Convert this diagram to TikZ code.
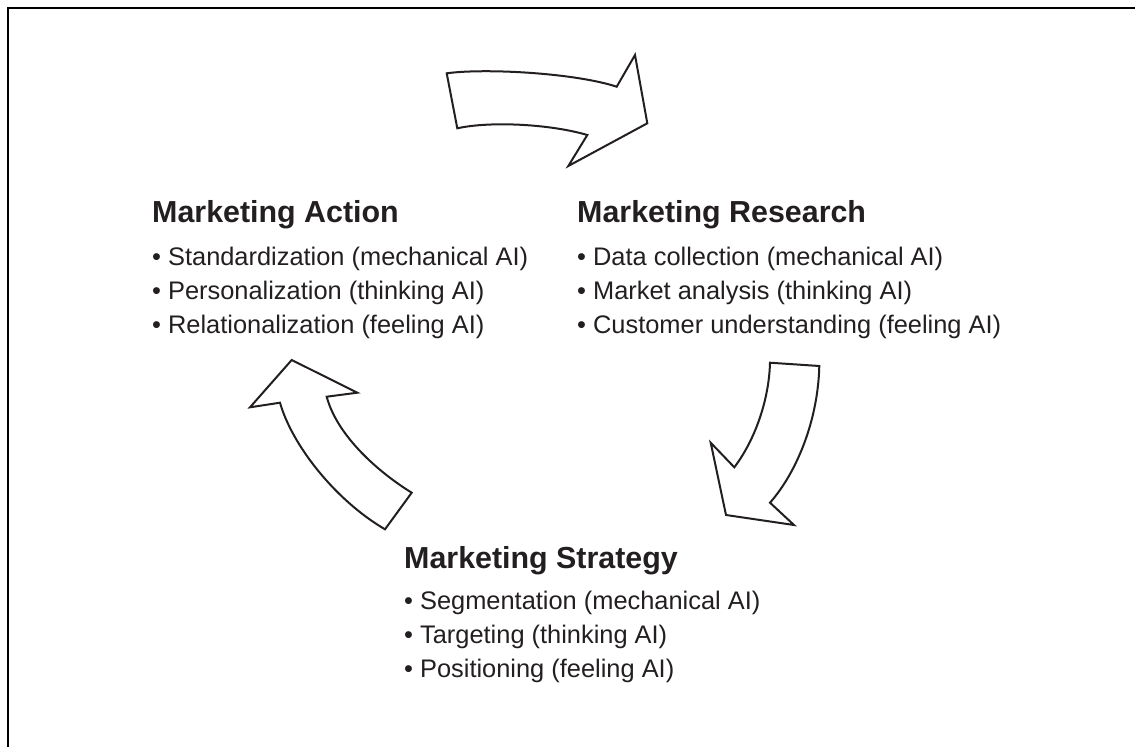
\documentclass[tikz,border=0pt]{standalone}
\usepackage{fontspec}
\setmainfont{Liberation Sans}
\definecolor{ink}{HTML}{231F20}
\begin{document}
\begin{tikzpicture}[x=1pt,y=-1pt,
  heading/.style={anchor=base west,inner sep=0pt,text=ink,font=\fontsize{30.4}{34}\selectfont\bfseries},
  item/.style={anchor=base west,inner sep=0pt,text=ink,font=\fontsize{25.4}{34}\selectfont},
  bigarrow/.style={draw=ink,line width=2pt,line join=miter,fill=white},
  frame/.style={draw=black,line width=2.4pt}]
\useasboundingbox (0,0) rectangle (1135,747);

% frame: left and top edges only
\draw[frame] (7.8,747) -- (7.8,7.8) -- (1135,7.8);

% Marketing Action
\node[heading] (act)  at (152,222) {Marketing Action};
\node[item]    (act1) at (152,265) {• Standardization (mechanical AI)};
\node[item]    (act2) at (152,299) {• Personalization (thinking AI)};
\node[item]    (act3) at (152,333) {• Relationalization (feeling AI)};

% Marketing Research
\node[heading] (res)  at (577,222) {Marketing Research};
\node[item]    (res1) at (577,265) {• Data collection (mechanical AI)};
\node[item]    (res2) at (577,299) {• Market analysis (thinking AI)};
\node[item]    (res3) at (577,333) {• Customer understanding (feeling AI)};

% Marketing Strategy
\node[heading] (str)  at (404,568) {Marketing Strategy};
\node[item]    (str1) at (404,609) {• Segmentation (mechanical AI)};
\node[item]    (str2) at (404,643) {• Targeting (thinking AI)};
\node[item]    (str3) at (404,677) {• Positioning (feeling AI)};

% curved block arrow: Action -> Research
\draw[bigarrow] (446.7,73.3) .. controls (485,68) and (575,73) .. (616.7,86.7)
  -- (635,55) -- (647.3,123.3) -- (568.3,166) -- (587.3,135)
  .. controls (550,124) and (490,121) .. (457.3,128.3) -- cycle;

% curved block arrow: Research -> Strategy
\draw[bigarrow] (770,362.7) -- (819.3,366)
  .. controls (818,420) and (797,472) .. (770,502.7)
  -- (794,525) -- (726,515) -- (710.7,442.7) -- (734.3,467.3)
  .. controls (755,440) and (769,400) .. cycle;

% curved block arrow: Strategy -> Action
\draw[bigarrow] (411.7,492.7) -- (385,529.3)
  .. controls (335,500) and (292,445) .. (280,402.7)
  -- (250,407.3) -- (291.7,360) -- (357.3,392.7) -- (326.7,396.7)
  .. controls (336,432) and (372,468) .. cycle;
\end{tikzpicture}
\end{document}
